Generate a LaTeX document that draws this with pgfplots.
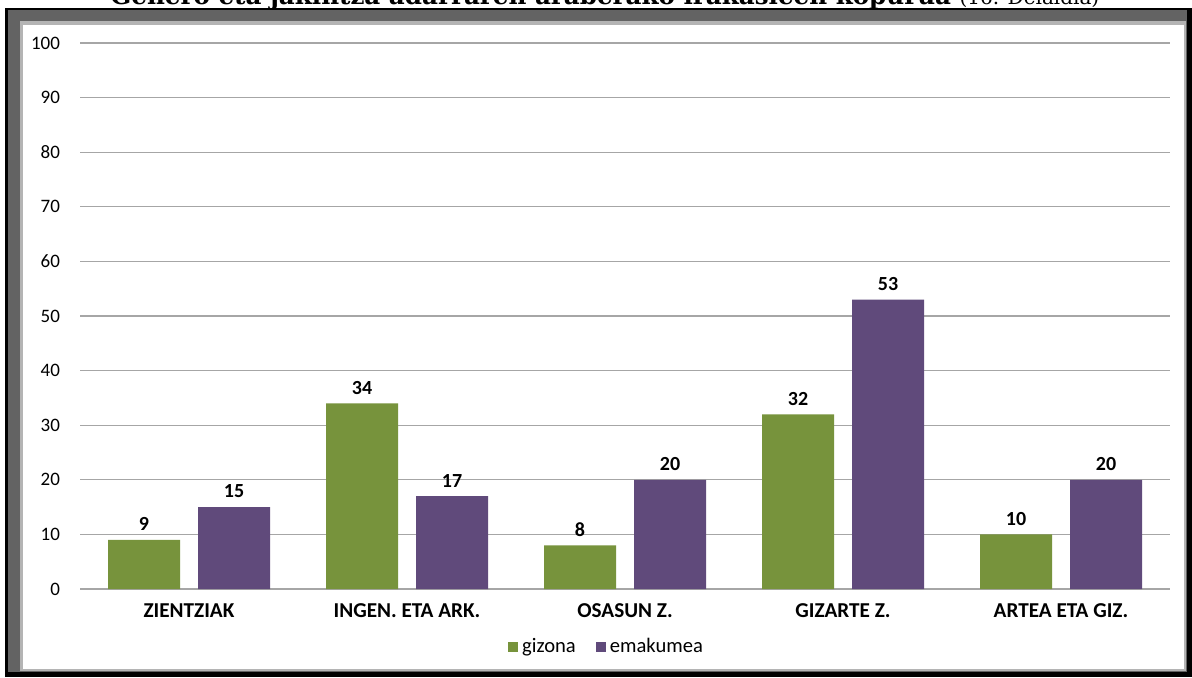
\documentclass[border=0pt]{standalone}
\usepackage{pgfplots}
\pgfplotsset{compat=1.18}
\usepackage{fontspec}
\setmainfont{Carlito}
\newfontfamily\titlefont{DejaVu Serif}
\definecolor{gz}{HTML}{77933C}
\definecolor{em}{HTML}{604A7B}
\definecolor{gridc}{HTML}{A6A6A6}
\definecolor{framed}{HTML}{636363}
\definecolor{framel}{HTML}{B4B4B4}

\begin{document}
\begin{tikzpicture}[x=0.5pt,y=-0.5pt]
\useasboundingbox (0,0) rectangle (1192,677);
\clip (0,0) rectangle (1192,677);
% frame
\fill[black] (5,8) rectangle (1192,677);
\fill[framed] (8,10) rectangle (1187,672);
\fill[framel] (20,21) rectangle (1186,671);
\fill[white] (23,25) rectangle (1184,669);
% title, cut off at the top as in the reference
\node[anchor=base west, inner sep=0] at (110,4)
  {\titlefont\fontsize{12.3}{14}\selectfont\bfseries Genero eta jakintza adarraren araberako irakasleen kopurua \mdseries\fontsize{10}{12}\selectfont(16. Deialdia)};

\begin{axis}[
    at={(40pt,-294.5pt)}, anchor=south west,
    scale only axis, width=545pt, height=273pt,
    ybar=9pt, bar width=36pt,
    xmin=-0.5, xmax=4.5, ymin=0, ymax=100,
    ytick={0,10,...,100},
    xtick=data,
    xticklabels={ZIENTZIAK, INGEN. ETA ARK., OSASUN Z., GIZARTE Z., ARTEA ETA GIZ.},
    ymajorgrids, grid style={gridc, line width=0.6pt},
    axis line style={draw=none},
    major tick length=0pt, tick style={draw=none},
    /pgf/number format/assume math mode=true,
    yticklabel style={font=\fontsize{9.5}{10}\selectfont, xshift=-6.5pt},
    xticklabel style={font=\bfseries\fontsize{10.6}{12}\selectfont, yshift=-4pt},
    nodes near coords,
    nodes near coords style={font=\bfseries\fontsize{10}{11}\selectfont, black, yshift=1pt},
    legend style={at={(0.484,-0.106)}, anchor=center, draw=none, legend columns=2,
      font=\fontsize{10.3}{12}\selectfont,
      /tikz/every even column/.append style={column sep=8pt}},
    legend image code/.code={\fill[#1] (0pt,-2.5pt) rectangle (5pt,2.5pt);},
]
\addplot[fill=gz, draw=none] coordinates {(0,9) (1,34) (2,8) (3,32) (4,10)};
\addplot[fill=em, draw=none] coordinates {(0,15) (1,17) (2,20) (3,53) (4,20)};
\legend{gizona, emakumea}
\end{axis}
\end{tikzpicture}
\end{document}
